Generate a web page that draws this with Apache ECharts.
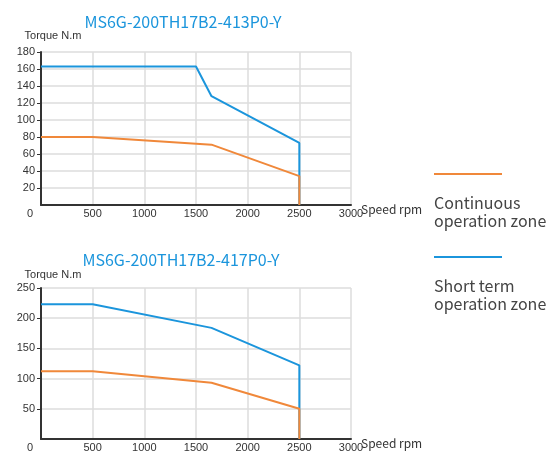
<!DOCTYPE html>
<html>
<head>
<meta charset="utf-8">
<script src="https://cdn.jsdelivr.net/npm/echarts@6/dist/echarts.min.js"></script>
<style>html,body{margin:0;padding:0;background:#fff;}#c{width:548px;height:459px;}</style>
</head>
<body>
<div id="c"></div>
<script>
// ---- data ----
const titles = ['MS6G-200TH17B2-413P0-Y', 'MS6G-200TH17B2-417P0-Y'];
const seriesNames = ['Continuous\noperation zone', 'Short term\noperation zone'];

const topShortSpeed  = [0, 1500, 1650, 2500, 2500];
const topShortTorque = [163, 163, 128, 73, 0];
const topContSpeed   = [0, 500, 1650, 2500, 2500];
const topContTorque  = [80, 80, 71, 34, 0];

const botShortSpeed  = [0, 500, 1650, 2500, 2500];
const botShortTorque = [223, 223, 184, 122, 0];
const botContSpeed   = [0, 500, 1650, 2500, 2500];
const botContTorque  = [112, 112, 93, 50, 0];

const xMax = 3000, xStep = 500;
const topYMax = 180, topYStep = 20;
const botYMax = 250, botYStep = 50;

// ---- styles ----
const BLUE = '#1b95dc';
const ORANGE = '#f0883a';
const AXIS = '#333';
const GRIDC = '#dcdcdc';
const tickFont = 'Liberation Sans, Arial, sans-serif';
const titleFont = 'Noto Sans CJK SC, Noto Sans, sans-serif';

function pairs(xs, ys) { return xs.map((x, i) => [x, ys[i]]); }

function xAxis(gi) {
  return {
    type: 'value', gridIndex: gi, min: 0, max: xMax, interval: xStep,
    name: 'Speed rpm', nameLocation: 'end', nameGap: 10, nameMoveOverlap: false,
    nameTextStyle: { color: '#333', fontSize: 12, fontFamily: titleFont, verticalAlign: 'top', lineHeight: 8 },
    axisLine: { show: true, lineStyle: { color: AXIS, width: 2 } },
    axisTick: { show: false },
    splitLine: { show: true, lineStyle: { color: GRIDC, width: 1.5 } },
    axisLabel: {
      color: '#333', fontSize: 11, fontFamily: tickFont, margin: 3,
      formatter: v => v === 0 ? '{z|0}' : String(v),
      rich: { z: { fontSize: 11, fontFamily: tickFont, color: '#333', padding: [0, 22, 0, 0] } }
    }
  };
}
function yAxis(gi, max, step, gap) {
  return {
    type: 'value', gridIndex: gi, min: 0, max: max, interval: step,
    name: 'Torque N.m', nameLocation: 'end', nameGap: gap, nameMoveOverlap: false,
    nameTextStyle: { color: '#333', fontSize: 11, fontFamily: tickFont, padding: [0, 0, 0, 24] },
    axisLine: { show: true, lineStyle: { color: AXIS, width: 2 } },
    axisTick: { show: true, length: 4, lineStyle: { color: AXIS, width: 1 } },
    splitLine: { show: true, lineStyle: { color: GRIDC, width: 1.5 } },
    axisLabel: { color: '#333', fontSize: 11, fontFamily: tickFont, margin: 6, showMinLabel: false,
      formatter: v => v === 0 ? '' : String(v) }
  };
}
function line(name, gi, data, color) {
  return {
    type: 'line', name: name, xAxisIndex: gi, yAxisIndex: gi, data: data,
    showSymbol: false, symbol: 'none', animation: false,
    lineStyle: { color: color, width: 2 }, itemStyle: { color: color }
  };
}

const chart = echarts.init(document.getElementById('c'), null, { renderer: 'canvas' });
chart.setOption({
  backgroundColor: '#fff',
  animation: false,
  title: [
    { text: titles[0], left: 178, top: 9, textAlign: 'center',
      textStyle: { color: BLUE, fontSize: 16, fontWeight: 'normal', fontFamily: titleFont } },
    { text: titles[1], left: 176, top: 247, textAlign: 'center',
      textStyle: { color: BLUE, fontSize: 16, fontWeight: 'normal', fontFamily: titleFont } }
  ],
  grid: [
    { left: 41, top: 52, width: 310, height: 153 },
    { left: 41, top: 288, width: 310, height: 151 }
  ],
  xAxis: [xAxis(0), xAxis(1)],
  yAxis: [yAxis(0, topYMax, topYStep, 11), yAxis(1, botYMax, botYStep, 8)],
  series: [
    line(seriesNames[1], 0, pairs(topShortSpeed, topShortTorque), BLUE),
    line(seriesNames[0], 0, pairs(topContSpeed, topContTorque), ORANGE),
    line(seriesNames[1], 1, pairs(botShortSpeed, botShortTorque), BLUE),
    line(seriesNames[0], 1, pairs(botContSpeed, botContTorque), ORANGE)
  ],
  graphic: [
    { type: 'line', shape: { x1: 434, y1: 174, x2: 502, y2: 174 }, style: { stroke: ORANGE, lineWidth: 2 } },
    { type: 'text', x: 434, y: 212, style: { text: seriesNames[0], fill: '#444', font: '16px "Noto Sans CJK SC"', lineHeight: 17.5, verticalAlign: 'middle', align: 'left' } },
    { type: 'line', shape: { x1: 434, y1: 257, x2: 502, y2: 257 }, style: { stroke: BLUE, lineWidth: 2 } },
    { type: 'text', x: 434, y: 295, style: { text: seriesNames[1], fill: '#444', font: '16px "Noto Sans CJK SC"', lineHeight: 17.5, verticalAlign: 'middle', align: 'left' } }
  ]
});
</script>
</body>
</html>
